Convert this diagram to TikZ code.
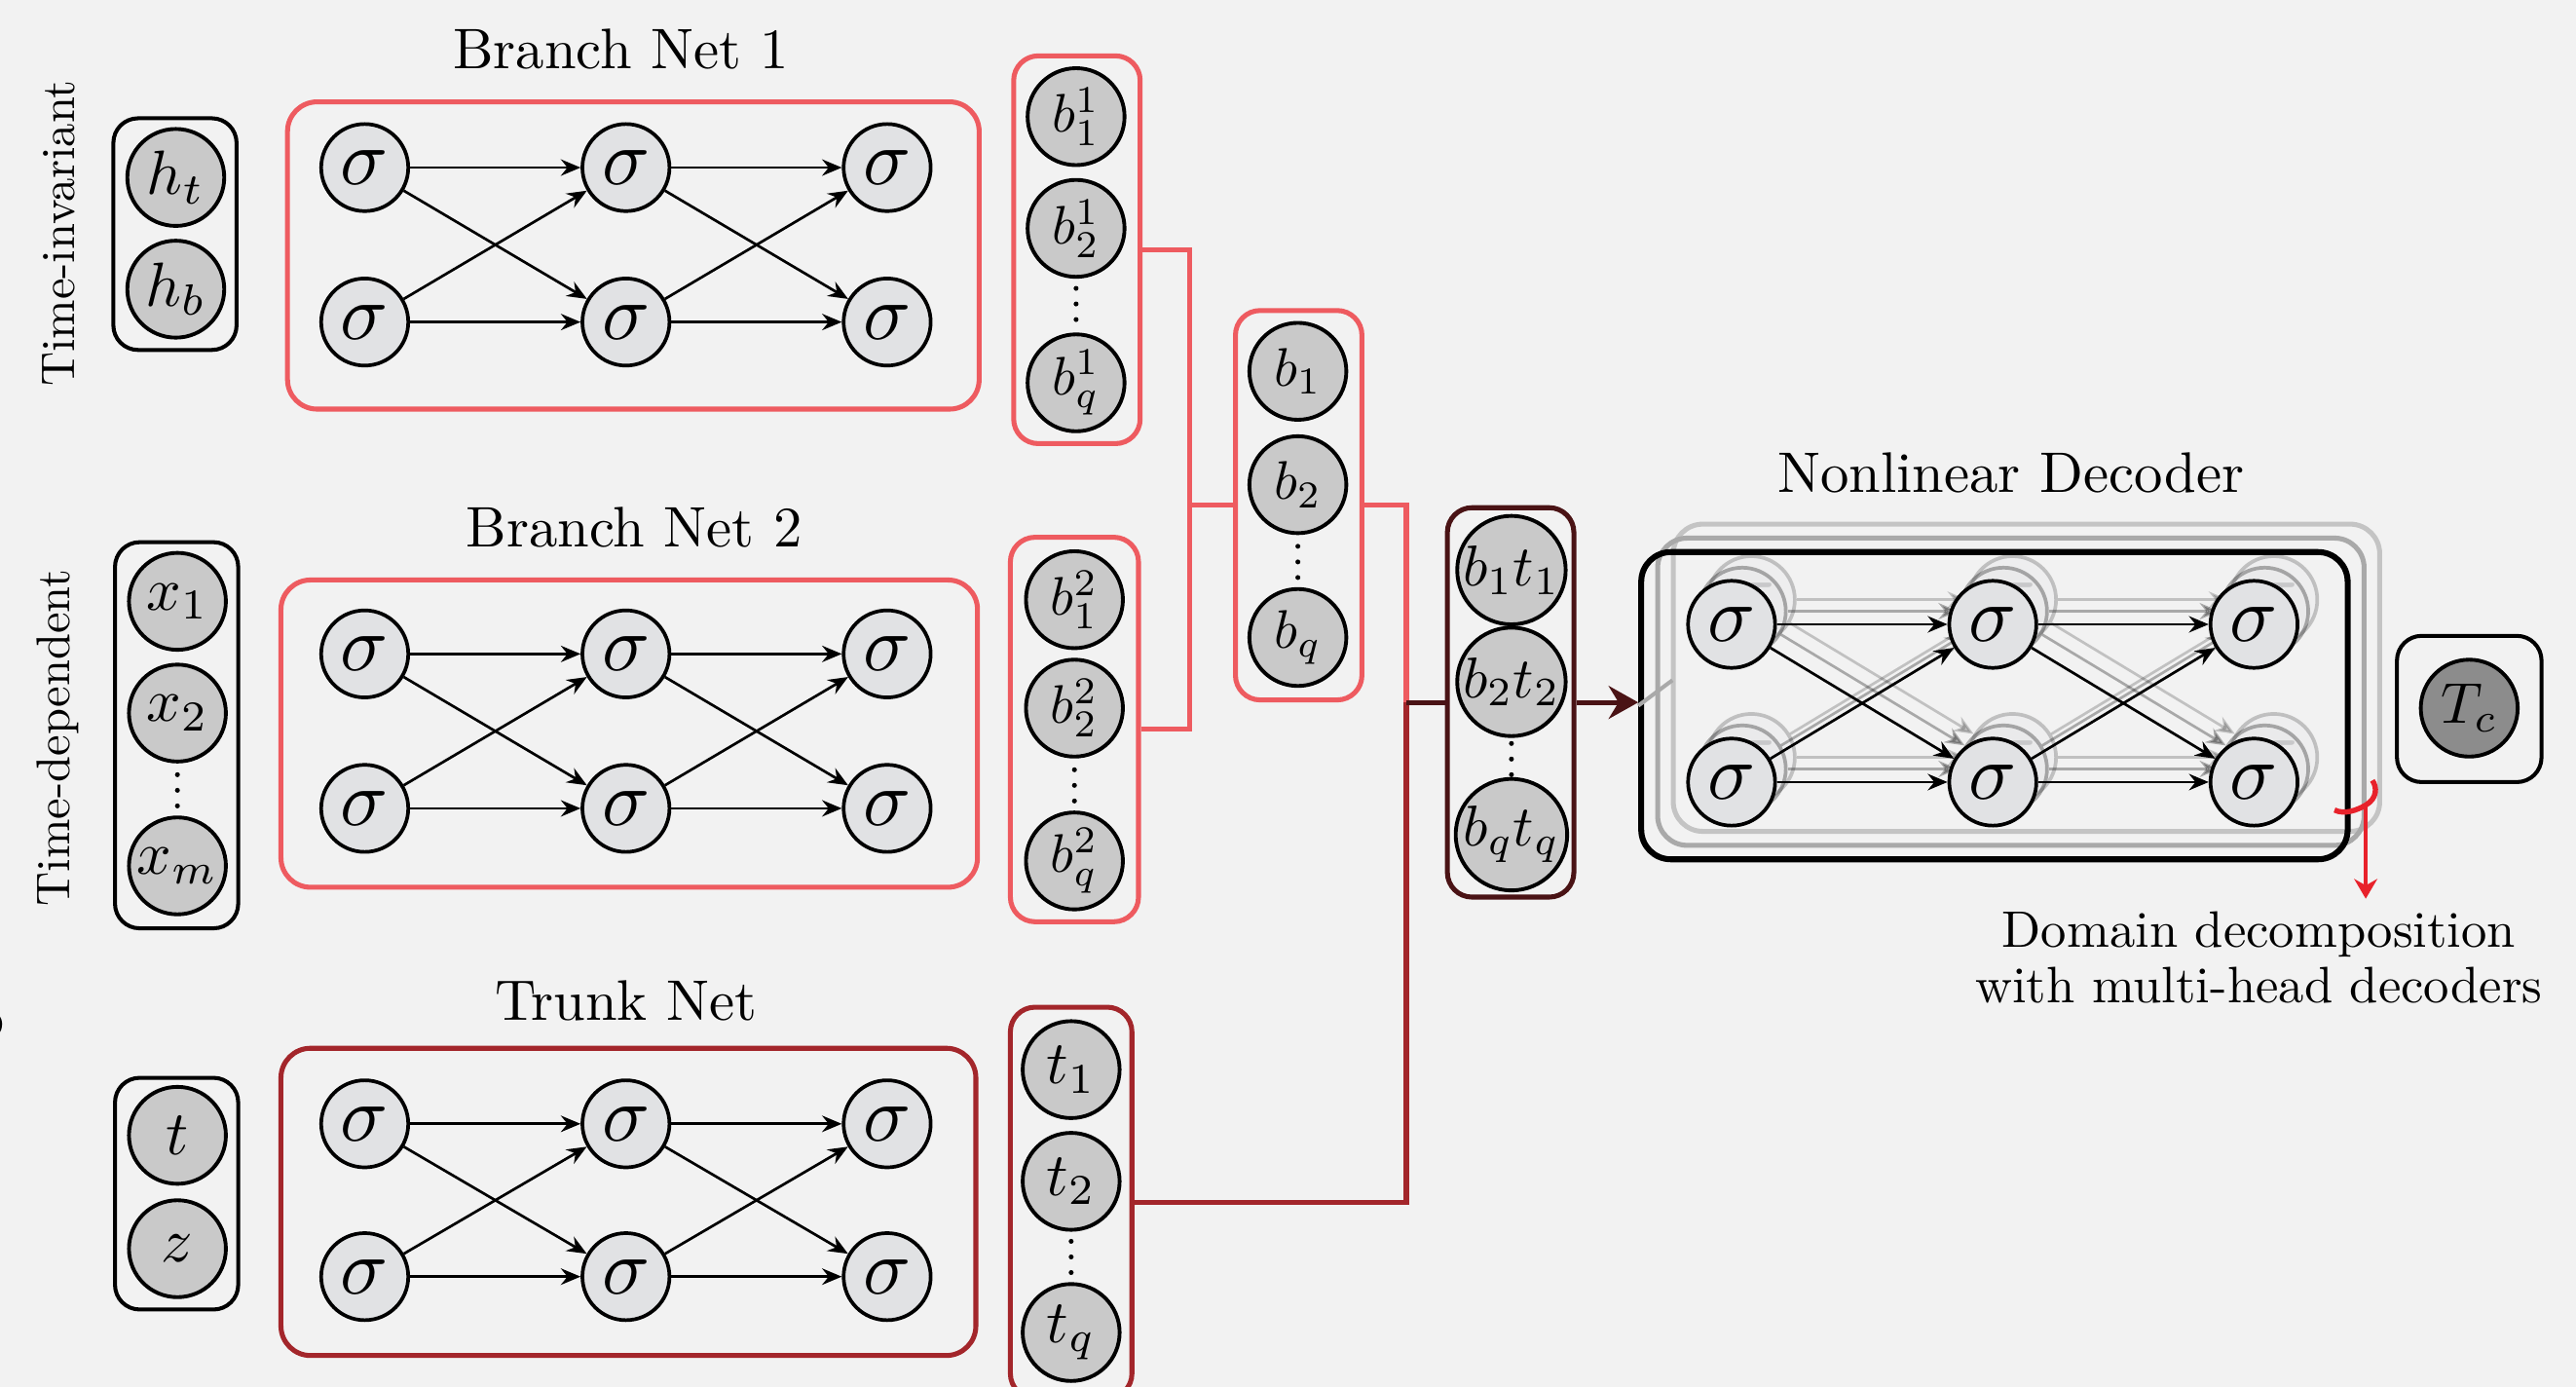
\documentclass[tikz,border=0pt]{standalone}
\usetikzlibrary{arrows.meta,fit,calc}
\definecolor{bgc}{HTML}{F2F2F2}
\definecolor{lred}{HTML}{EE5B60}
\definecolor{tred}{HTML}{A3262B}
\definecolor{dred}{HTML}{4A1315}
\definecolor{sigfill}{HTML}{E1E2E4}
\definecolor{iofill}{HTML}{C9C9C9}
\definecolor{tcfill}{HTML}{8C8C8C}
\definecolor{hookred}{HTML}{E8222B}
\definecolor{ghostA}{HTML}{A9A9A9}
\definecolor{ghostB}{HTML}{C4C4C4}

\newcommand{\mth}[2]{\scalebox{#1}{$#2$}}

\tikzset{
  sig/.style={circle, draw, line width=1.1pt, fill=sigfill, minimum size=26.5pt, inner sep=0pt},
  ionode/.style={circle, draw, line width=1.15pt, fill=iofill, minimum size=29.5pt, inner sep=0pt},
  smallbox/.style={draw, rounded corners=7.5pt, line width=1.2pt, inner sep=0pt},
  bigbox/.style={draw, rounded corners=9pt, line width=1.5pt, inner sep=0pt},
  netarrow/.style={line width=0.8pt, -{Stealth[length=6pt,width=5pt,inset=2pt]}},
  conn/.style={line width=1.5pt},
  title/.style={inner sep=0pt, scale=1.74},
  sidelabel/.style={inner sep=0pt, scale=1.44, rotate=90},
}

\newcommand{\signet}[6]{%
  \foreach \c/\xx in {1/#2,2/#3,3/#4}{
    \node[sig] (#1-\c-a) at (\xx,#5) {\mth{2.4}{\sigma}};
    \node[sig] (#1-\c-b) at (\xx,#6) {\mth{2.4}{\sigma}};
  }
  \foreach \c/\d in {1/2,2/3}{
    \foreach \r in {a,b}{
      \foreach \s in {a,b}{
        \draw[netarrow] (#1-\c-\r) -- (#1-\d-\s);
      }
    }
  }
}
\newcommand{\vdts}[2]{\foreach \k in {-9.5,0,9.5} \fill (#1,#2+\k) circle (0.75pt);}

\begin{document}
\begin{tikzpicture}[x=0.5pt,y=-0.5pt]
\useasboundingbox (0,0) rectangle (1568,844);
\fill[bgc] (0,0) rectangle (1568,844);

% cut-off glyph at left edge
\node[anchor=east, inner sep=0pt, font=\sffamily\bfseries, scale=1.9] (cut) at (5,618) {S};

% side labels
\node[sidelabel] (ti) at (36,142) {Time-invariant};
\node[sidelabel] (td) at (35,449) {Time-dependent};

% titles
\node[title] (tb1) at (378,30) {Branch Net 1};
\node[title] (tb2) at (386,321) {Branch Net 2};
\node[title] (ttr) at (381,609) {Trunk Net};
\node[title] (tdec) at (1224,288) {Nonlinear Decoder};

% ---------- input groups
\node[smallbox, fit={(69,72) (144,213)}] (in1) {};
\node[ionode] (ht) at (107,108) {\mth{1.9}{h_t}};
\node[ionode] (hb) at (107,176) {\mth{1.9}{h_b}};

\node[smallbox, fit={(70,330) (145,565)}] (in2) {};
\node[ionode] (x1) at (108,366) {\mth{1.85}{x_1}};
\node[ionode] (x2) at (108,434) {\mth{1.85}{x_2}};
\vdts{108}{481}
\node[ionode] (xm) at (108,527) {\mth{1.85}{x_m}};

\node[smallbox, fit={(70,656) (145,797)}] (in3) {};
\node[ionode] (tt) at (108,691) {\mth{1.9}{t}};
\node[ionode] (zz) at (108,760) {\mth{1.9}{z}};

% ---------- networks
\node[bigbox, draw=lred, fit={(175,62) (596,249)}] (net1) {};
\signet{A}{222}{381}{540}{102}{196}
\node[bigbox, draw=lred, fit={(171,353) (595,540)}] (net2) {};
\signet{B}{222}{381}{540}{398}{492}
\node[bigbox, draw=tred, fit={(171,638) (594,825)}] (net3) {};
\signet{C}{222}{381}{540}{684}{777}

% ---------- output groups
\node[smallbox, draw=lred, line width=1.5pt, fit={(617,34) (694,270)}] (o1) {};
\node[ionode] (b11) at (655,71) {\mth{1.65}{b^1_1}};
\node[ionode] (b12) at (655,139) {\mth{1.65}{b^1_2}};
\vdts{655}{185}
\node[ionode] (b1q) at (655,233) {\mth{1.65}{b^1_q}};

\node[smallbox, draw=lred, line width=1.5pt, fit={(615,327) (693,561)}] (o2) {};
\node[ionode] (b21) at (654,365) {\mth{1.65}{b^2_1}};
\node[ionode] (b22) at (654,431) {\mth{1.65}{b^2_2}};
\vdts{654}{478}
\node[ionode] (b2q) at (654,524) {\mth{1.65}{b^2_q}};

\node[smallbox, draw=tred, line width=1.5pt, fit={(615,613) (689,851)}] (o3) {};
\node[ionode] (t1) at (652,651) {\mth{1.85}{t_1}};
\node[ionode] (t2) at (652,719) {\mth{1.85}{t_2}};
\vdts{652}{765}
\node[ionode] (tq) at (652,811) {\mth{1.85}{t_q}};

\node[smallbox, draw=lred, line width=1.5pt, fit={(752,189) (829,426)}] (bb) {};
\node[ionode] (bb1) at (790,226) {\mth{1.65}{b_1}};
\node[ionode] (bb2) at (790,295) {\mth{1.65}{b_2}};
\vdts{790}{342}
\node[ionode] (bbq) at (790,388) {\mth{1.65}{b_q}};

\node[smallbox, draw=dred, line width=1.5pt, fit={(881,309) (958,546)}] (bt) {};
\node[ionode] (bt1) at (920,347) {\mth{1.75}{b_1t_1}};
\node[ionode] (bt2) at (920,415) {\mth{1.75}{b_2t_2}};
\vdts{920}{462}
\node[ionode] (btq) at (920,508) {\mth{1.75}{b_qt_q}};

% ---------- connectors
\coordinate (j1) at (724,307.5);
\coordinate (j2) at (856,427.5);
\draw[conn, lred] (o1.east) -| (j1);
\draw[conn, lred] (o2.east) -| (j1);
\draw[conn, lred] (j1) -- (bb.west);
\draw[conn, lred] (bb.east) -| (j2);
\draw[conn, tred] (o3.east) -| (j2);
\draw[conn, dred] (j2) -- (bt.west);

% ---------- decoder ghosts
\node[bigbox, draw=ghostB, fit={(1018.5,319) (1448.5,506)}] (decg2) {};
\node[bigbox, draw=ghostA, fit={(1009,327.5) (1439,514.5)}] (decg1) {};
\begin{scope}[shift={(12,-15)}, opacity=0.2]
  \signet{G}{1054}{1213}{1372}{380}{476}
\end{scope}
\begin{scope}[shift={(6.5,-8)}, opacity=0.3]
  \signet{H}{1054}{1213}{1372}{380}{476}
\end{scope}

% ---------- main decoder
\node[bigbox, draw=black, line width=1.8pt, fit={(999,336) (1429,523)}] (dec) {};
\coordinate (gl) at (1018,414);
\draw[ghostA, line width=1.2pt] (dec.west) -- (gl);
\signet{D}{1054}{1213}{1372}{380}{476}

\draw[conn, dred, -{Stealth[length=9pt,width=10pt,inset=3pt]}] (bt.east) -- (bt.east -| dec.west);

% ---------- output T_c
\node[smallbox, fit={(1459,387) (1547,476)}] (tcbox) {};
\node[ionode, fill=tcfill] (tc) at (1503,431) {\mth{1.75}{T_c}};

% ---------- domain decomposition hook
\coordinate (hka) at (1421,493);
\coordinate (hk) at (1440,490);
\coordinate (hkb) at (1444,475);
\coordinate (hkend) at (1440,547);
\draw[hookred, line width=1.6pt] (hka) .. controls (1427,496) and (1435,493) .. (hk) .. controls (1447,486) and (1447,479) .. (hkb);
\draw[hookred, line width=1.1pt, -{Stealth[length=6pt,width=7pt]}] (hk) -- (hkend);

\node[inner sep=0pt, align=center, scale=1.56] (ann) at (1375,583) {Domain decomposition\\[-1.2pt]with multi-head decoders};
\end{tikzpicture}
\end{document}
